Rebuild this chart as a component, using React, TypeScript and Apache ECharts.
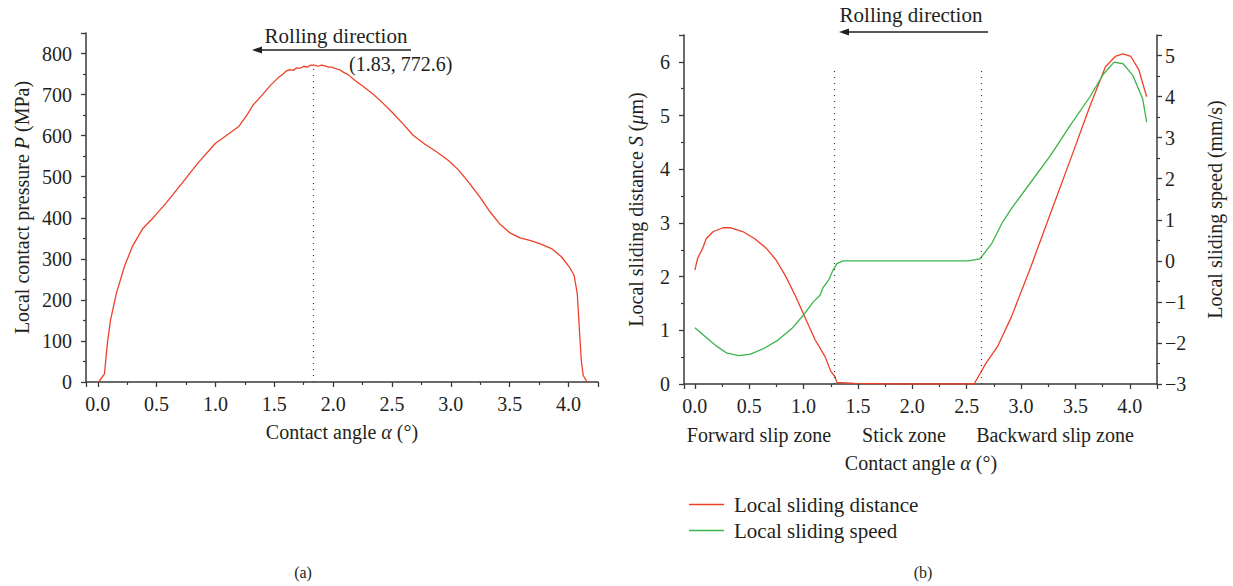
import React, { useEffect, useRef } from "react";
import * as echarts from "echarts";

const FONT = "'Liberation Serif', 'DejaVu Serif', serif";
const TEXT = "#231f20";
const AXIS = "#3a3a3a";
const RED = "#ee4028";
const GREEN = "#3cb44a";

// (a) local contact pressure
const pressureAngle = [
  0.007, 0.057, 0.081, 0.108, 0.158, 0.225, 0.292, 0.383, 0.477, 0.578, 0.713, 0.847, 0.998,
  1.116, 1.2, 1.267, 1.318, 1.385, 1.469, 1.536, 1.57, 1.6, 1.63, 1.66, 1.69, 1.72, 1.75, 1.78,
  1.81, 1.84, 1.87, 1.9, 1.93, 1.96, 1.99, 2.02, 2.05, 2.09, 2.13, 2.175, 2.259, 2.343, 2.427,
  2.511, 2.595, 2.679, 2.78, 2.881, 2.982, 3.066, 3.15, 3.25, 3.334, 3.418, 3.503, 3.587, 3.671,
  3.755, 3.855, 3.939, 4.007, 4.047, 4.074, 4.094, 4.108, 4.124, 4.158,
];
const pressureValue = [
  0, 20, 93, 150, 216, 280, 329, 374, 402, 435, 483, 532, 581,
  605, 623, 650, 674, 695, 723, 742, 749, 757, 761, 759, 765, 764, 769, 767,
  772, 772, 769, 772, 770, 767, 767, 763, 761, 754, 748, 737, 719, 700, 678,
  654, 628, 601, 579, 560, 539, 516, 487, 449, 414, 384, 363, 351, 345,
  337, 325, 305, 280, 260, 215, 118, 53, 16, 0,
];
const peakAngle = 1.83;
const peakPressure = 772.6;

// (b) local sliding distance
const slideAngle = [
  0, 0.025, 0.072, 0.105, 0.17, 0.26, 0.33, 0.44, 0.548, 0.656, 0.747, 0.837, 0.927, 1.017,
  1.107, 1.197, 1.252, 1.288, 1.306, 1.468, 1.83, 2.568, 2.676, 2.784, 2.911, 3.091, 3.271,
  3.452, 3.632, 3.776, 3.866, 3.938, 4.01, 4.083, 4.155,
];
const slideDistance = [
  2.12, 2.34, 2.53, 2.71, 2.84, 2.91, 2.91, 2.84, 2.71, 2.53, 2.31, 2.0, 1.63, 1.22,
  0.82, 0.51, 0.23, 0.14, 0.03, 0.012, 0, 0, 0.385, 0.7, 1.25, 2.19, 3.18,
  4.17, 5.17, 5.91, 6.1, 6.15, 6.1, 5.85, 5.35,
];

// (b) local sliding speed
const speedAngle = [
  0, 0.097, 0.206, 0.296, 0.404, 0.512, 0.638, 0.765, 0.891, 0.999, 1.089, 1.151, 1.179, 1.234,
  1.27, 1.306, 1.36, 1.83, 2.514, 2.622, 2.73, 2.831, 2.911, 3.091, 3.271, 3.452, 3.632, 3.758,
  3.856, 3.938, 4.029, 4.119, 4.155,
];
const speedValue = [
  -1.63, -1.85, -2.09, -2.25, -2.31, -2.27, -2.13, -1.93, -1.65, -1.32, -1.0, -0.84, -0.65, -0.45,
  -0.23, -0.07, 0, 0, 0, 0.05, 0.42, 0.95, 1.27, 1.92, 2.57, 3.3, 3.99, 4.55,
  4.84, 4.8, 4.51, 3.94, 3.38,
];

const zoneBounds = [1.28, 2.63];
const zoneTop = 5.92;
const zoneLabels = ["Forward slip zone", "Stick zone", "Backward slip zone"];
const zoneLabelX = [759, 904, 1055];

const zip = (xs: number[], ys: number[]) => xs.map((x, i) => [x, ys[i]]);

const FONT_CSS = `20px ${FONT}`;
const FONT_CSS_L = `21px ${FONT}`;
const baseText = { fontFamily: FONT, fontSize: 20, color: TEXT };
const italicRich = { i: { fontFamily: FONT, fontSize: 20, color: TEXT, fontStyle: "italic" } };

const xAxisFor = (gridIndex: number, extra: any = {}) => ({
  type: "value",
  gridIndex,
  min: -0.1,
  max: 4.25,
  splitNumber: 8,
  axisLine: { show: true, onZero: false, lineStyle: { color: AXIS, width: 1.5 } },
  axisTick: { show: true, length: 5, lineStyle: { color: AXIS, width: 1.3 } },
  minorTick: { show: true, splitNumber: 2, length: 3, lineStyle: { color: AXIS, width: 1.2 } },
  splitLine: { show: false },
  minorSplitLine: { show: false },
  axisLabel: {
    ...baseText,
    margin: 12,
    showMinLabel: false,
    showMaxLabel: false,
    formatter: (v: number) => v.toFixed(1),
  },
  ...extra,
});

const yAxisFor = (gridIndex: number, min: number, max: number, interval: number, position: string, name: string, nameGap: number, margin: number) => ({
  type: "value",
  gridIndex,
  min,
  max,
  interval,
  position,
  name,
  nameLocation: "middle",
  nameGap,
  nameTextStyle: { ...baseText, rich: italicRich },
  axisLine: { show: true, onZero: false, lineStyle: { color: AXIS, width: 1.5 } },
  axisTick: { show: true, length: 5, lineStyle: { color: AXIS, width: 1.3 } },
  minorTick: { show: true, splitNumber: 2, length: 3, lineStyle: { color: AXIS, width: 1.2 } },
  splitLine: { show: false },
  minorSplitLine: { show: false },
  axisLabel: {
    ...baseText,
    margin,
    showMaxLabel: false,
    formatter: (v: number) => String(v).replace("-", "\u2212"),
  },
});

const arrow = (x1: number, x2: number, y: number) => [
  { type: "line", shape: { x1: x1 + 6, y1: y, x2, y2: y }, style: { stroke: TEXT, lineWidth: 1.5 } },
  {
    type: "polygon",
    shape: { points: [[x1, y], [x1 + 10, y - 3.5], [x1 + 10, y + 3.5]] },
    style: { fill: TEXT },
  },
];

export default function App() {
  const ref = useRef<HTMLDivElement>(null);

  useEffect(() => {
    if (!ref.current) return;
    const chart = echarts.init(ref.current, null, { renderer: "svg" });
    const dotted = { type: [1, 5], color: AXIS, width: 1.2 };
    chart.setOption({
      animation: false,
      backgroundColor: "#ffffff",
      textStyle: { fontFamily: FONT },
      grid: [
        { left: 86, top: 33, width: 512, height: 349 },
        { left: 684, top: 35, width: 473, height: 349 },
      ],
      xAxis: [
        xAxisFor(0, {
          name: "Contact angle {i|\u03b1} (\u00b0)",
          nameLocation: "middle",
          nameGap: 40,
          nameTextStyle: { ...baseText, rich: italicRich },
        }),
        xAxisFor(1),
      ],
      yAxis: [
        yAxisFor(0, 0, 850, 100, "left", "Local contact pressure {i|P} (MPa)", 54, 14),
        yAxisFor(1, 0, 6.5, 1, "left", "Local sliding distance {i|S} ({i|\u03bc}m)", 38, 14),
        yAxisFor(1, -3, 5.5, 1, "right", "Local sliding speed (mm/s)", 48, 8),
      ],
      legend: {
        orient: "vertical",
        left: 684,
        top: 489,
        icon: "rect",
        itemWidth: 35,
        itemHeight: 1.6,
        itemGap: 5,
        data: ["Local sliding distance", "Local sliding speed"],
        textStyle: { ...baseText, fontSize: 21, padding: [0, 0, 0, 5] },
      },
      series: [
        {
          type: "line",
          name: "Local contact pressure",
          xAxisIndex: 0,
          yAxisIndex: 0,
          data: zip(pressureAngle, pressureValue),
          symbol: "none",
          lineStyle: { color: RED, width: 1.3 },
          itemStyle: { color: RED },
          markLine: {
            silent: true,
            symbol: ["none", "none"],
            label: { show: false },
            lineStyle: dotted,
            data: [[{ coord: [peakAngle, 0] }, { coord: [peakAngle, peakPressure] }]],
          },
        },
        {
          type: "line",
          name: "Local sliding distance",
          xAxisIndex: 1,
          yAxisIndex: 1,
          data: zip(slideAngle, slideDistance),
          symbol: "none",
          lineStyle: { color: RED, width: 1.3 },
          itemStyle: { color: RED },
          markLine: {
            silent: true,
            symbol: ["none", "none"],
            label: { show: false },
            lineStyle: dotted,
            data: zoneBounds.map((b) => [{ coord: [b, 0] }, { coord: [b, zoneTop] }]),
          },
        },
        {
          type: "line",
          name: "Local sliding speed",
          xAxisIndex: 1,
          yAxisIndex: 2,
          data: zip(speedAngle, speedValue),
          symbol: "none",
          lineStyle: { color: GREEN, width: 1.3 },
          itemStyle: { color: GREEN },
        },
      ],
      graphic: [
        { type: "text", x: 336, y: 36, style: { text: "Rolling direction", fill: TEXT, font: FONT_CSS_L, align: "center", verticalAlign: "middle" } },
        ...arrow(252, 411, 50),
        { type: "text", x: 349, y: 64, style: { text: `(${peakAngle}, ${peakPressure})`, fill: TEXT, font: FONT_CSS, align: "left", verticalAlign: "middle" } },
        { type: "text", x: 911, y: 15, style: { text: "Rolling direction", fill: TEXT, font: FONT_CSS_L, align: "center", verticalAlign: "middle" } },
        ...arrow(839, 988, 32),
        ...zoneLabels.map((t, i) => ({
          type: "text",
          x: zoneLabelX[i],
          y: 435,
          style: { text: t, fill: TEXT, font: FONT_CSS, align: "center", verticalAlign: "middle" },
        })),
        {
          type: "text",
          x: 921,
          y: 463,
          style: {
            text: "Contact angle {i|\u03b1} (\u00b0)",
            fill: TEXT,
            font: FONT_CSS,
            align: "center",
            verticalAlign: "middle",
            rich: { i: { fontStyle: "italic", fontFamily: FONT, fontSize: 20, fill: TEXT } },
          },
        },
        { type: "text", x: 303, y: 572, style: { text: "(a)", fill: TEXT, font: `16px ${FONT}`, align: "center", verticalAlign: "middle" } },
        { type: "text", x: 923, y: 572, style: { text: "(b)", fill: TEXT, font: `16px ${FONT}`, align: "center", verticalAlign: "middle" } },
      ],
    });
    return () => chart.dispose();
  }, []);

  return (
    <div
      ref={ref}
      style={{ position: "fixed", left: 0, top: 0, width: 1233, height: 586, background: "#fff" }}
    />
  );
}
